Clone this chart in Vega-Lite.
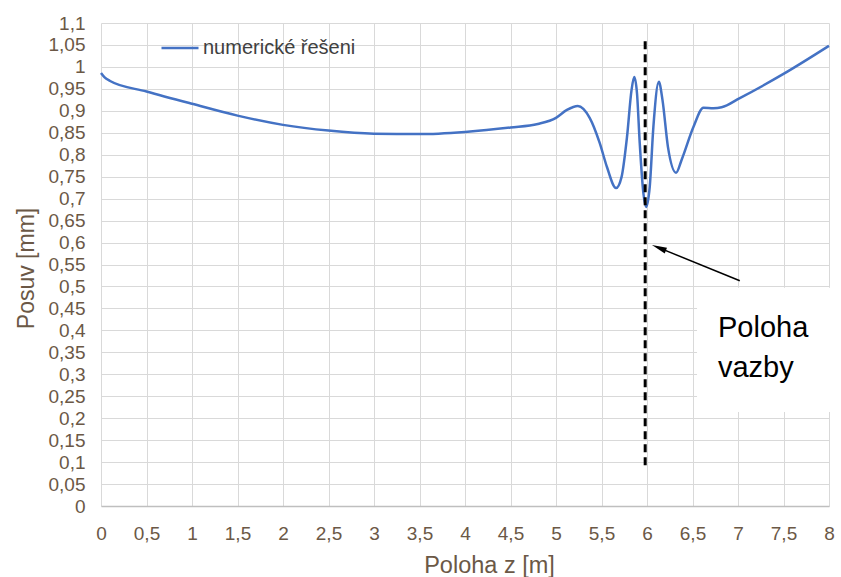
{
  "$schema": "https://vega.github.io/schema/vega-lite/v6.json",
  "width": 728,
  "height": 483,
  "autosize": {"type": "none"},
  "padding": {"left": 101, "top": 23, "right": 12, "bottom": 71},
  "background": "white",
  "config": {
    "view": {"stroke": null},
    "font": "Liberation Sans",
    "axis": {"labelFont": "Liberation Sans", "titleFont": "Liberation Sans", "labelColor": "#6b5846", "titleColor": "#6b5846", "titleFontWeight": "normal", "gridColor": "#d9d9d9", "gridWidth": 1, "ticks": false}
  },
  "datasets": {
    "curve": [
      {"z": 0, "posuv": 0.986, "serie": "numerické řešeni"},
      {"z": 0.04, "posuv": 0.976, "serie": "numerické řešeni"},
      {"z": 0.1, "posuv": 0.968, "serie": "numerické řešeni"},
      {"z": 0.5, "posuv": 0.944, "serie": "numerické řešeni"},
      {"z": 1, "posuv": 0.916, "serie": "numerické řešeni"},
      {"z": 1.5, "posuv": 0.889, "serie": "numerické řešeni"},
      {"z": 2, "posuv": 0.868, "serie": "numerické řešeni"},
      {"z": 2.5, "posuv": 0.855, "serie": "numerické řešeni"},
      {"z": 3, "posuv": 0.848, "serie": "numerické řešeni"},
      {"z": 3.5, "posuv": 0.847, "serie": "numerické řešeni"},
      {"z": 4, "posuv": 0.852, "serie": "numerické řešeni"},
      {"z": 4.5, "posuv": 0.862, "serie": "numerické řešeni"},
      {"z": 4.8, "posuv": 0.870, "serie": "numerické řešeni"},
      {"z": 5.0, "posuv": 0.884, "serie": "numerické řešeni"},
      {"z": 5.12, "posuv": 0.902, "serie": "numerické řešeni"},
      {"z": 5.24, "posuv": 0.911, "serie": "numerické řešeni"},
      {"z": 5.37, "posuv": 0.884, "serie": "numerické řešeni"},
      {"z": 5.48, "posuv": 0.827, "serie": "numerické řešeni"},
      {"z": 5.56, "posuv": 0.772, "serie": "numerické řešeni"},
      {"z": 5.66, "posuv": 0.724, "serie": "numerické řešeni"},
      {"z": 5.72, "posuv": 0.749, "serie": "numerické řešeni"},
      {"z": 5.78, "posuv": 0.84, "serie": "numerické řešeni"},
      {"z": 5.83, "posuv": 0.947, "serie": "numerické řešeni"},
      {"z": 5.86, "posuv": 0.977, "serie": "numerické řešeni"},
      {"z": 5.89, "posuv": 0.94, "serie": "numerické řešeni"},
      {"z": 5.92, "posuv": 0.827, "serie": "numerické řešeni"},
      {"z": 5.96, "posuv": 0.713, "serie": "numerické řešeni"},
      {"z": 5.99, "posuv": 0.681, "serie": "numerické řešeni"},
      {"z": 6.03, "posuv": 0.727, "serie": "numerické řešeni"},
      {"z": 6.07, "posuv": 0.863, "serie": "numerické řešeni"},
      {"z": 6.13, "posuv": 0.966, "serie": "numerické řešeni"},
      {"z": 6.17, "posuv": 0.925, "serie": "numerické řešeni"},
      {"z": 6.23, "posuv": 0.818, "serie": "numerické řešeni"},
      {"z": 6.32, "posuv": 0.759, "serie": "numerické řešeni"},
      {"z": 6.38, "posuv": 0.788, "serie": "numerické řešeni"},
      {"z": 6.51, "posuv": 0.863, "serie": "numerické řešeni"},
      {"z": 6.62, "posuv": 0.907, "serie": "numerické řešeni"},
      {"z": 6.73, "posuv": 0.906, "serie": "numerické řešeni"},
      {"z": 6.82, "posuv": 0.908, "serie": "numerické řešeni"},
      {"z": 7.02, "posuv": 0.929, "serie": "numerické řešeni"},
      {"z": 7.5, "posuv": 0.984, "serie": "numerické řešeni"},
      {"z": 8, "posuv": 1.048, "serie": "numerické řešeni"}
    ]
  },
  "layer": [
    {
      "data": {"name": "curve"},
      "mark": {"type": "line", "interpolate": "monotone", "strokeWidth": 2.5},
      "encoding": {
        "x": {"field": "z", "type": "quantitative", "scale": {"domain": [0, 8]},
          "axis": {"tickCount": 16, "format": ".1~f", "labelExpr": "replace(datum.label, '.', ',')", "title": "Poloha z [m]", "labelFontSize": 19, "titleFontSize": 23.5, "labelPadding": 18, "titleX": 388, "titleY": 66, "titleBaseline": "alphabetic", "titleAlign": "center", "domainColor": "#bfbfbf", "domainWidth": 1.5, "labelFlush": false, "labelOverlap": false}},
        "y": {"field": "posuv", "type": "quantitative", "scale": {"domain": [0, 1.1]},
          "axis": {"tickCount": 22, "format": ".2~f", "labelExpr": "replace(datum.label, '.', ',')", "title": "Posuv [mm]", "labelFontSize": 19, "titleFontSize": 23, "labelPadding": 16, "titleX": -68, "titleY": 245, "titleBaseline": "alphabetic", "titleAlign": "center", "titleAngle": -90, "domain": false, "labelFlush": false, "labelOverlap": false}},
        "color": {"field": "serie", "type": "nominal", "scale": {"range": ["#4472C4"]},
          "legend": {"title": null, "orient": "none", "legendX": 59, "legendY": 5, "symbolType": "stroke", "symbolSize": 1369, "symbolStrokeWidth": 2.5, "labelFont": "Liberation Sans", "labelFontSize": 20, "labelColor": "#404040", "labelOffset": 3, "padding": 0}}
      }
    },
    {
      "data": {"values": [{"x1": 6.55, "x2": 8.06, "y1": 0.214, "y2": 0.497}]},
      "mark": {"type": "rect", "color": "white", "clip": false},
      "encoding": {
        "x": {"field": "x1", "type": "quantitative"},
        "x2": {"field": "x2"},
        "y": {"field": "y1", "type": "quantitative"},
        "y2": {"field": "y2"}
      }
    },
    {
      "data": {"values": [{"z": 5.98, "y1": 0.093, "y2": 1.068}]},
      "mark": {"type": "rule", "color": "black", "strokeWidth": 3, "strokeDash": [8, 5]},
      "encoding": {
        "x": {"field": "z", "type": "quantitative"},
        "y": {"field": "y1", "type": "quantitative"},
        "y2": {"field": "y2"}
      }
    },
    {
      "data": {"values": [{"x1": 7.02, "y1": 0.513, "x2": 6.12, "y2": 0.589}]},
      "mark": {"type": "rule", "color": "black", "strokeWidth": 1.5},
      "encoding": {
        "x": {"field": "x1", "type": "quantitative"},
        "y": {"field": "y1", "type": "quantitative"},
        "x2": {"field": "x2"},
        "y2": {"field": "y2"}
      }
    },
    {
      "data": {"values": [{"x": 6.131, "y": 0.588}]},
      "mark": {"type": "point", "shape": "M0,-1L0.4,1L-0.4,1Z", "filled": true, "color": "black", "opacity": 1, "size": 225, "angle": 292},
      "encoding": {
        "x": {"field": "x", "type": "quantitative"},
        "y": {"field": "y", "type": "quantitative"}
      }
    },
    {
      "data": {"values": [{"x": 6.78, "y": 0.385, "t": "Poloha"}, {"x": 6.78, "y": 0.294, "t": "vazby"}]},
      "mark": {"type": "text", "align": "left", "baseline": "alphabetic", "font": "Liberation Sans", "fontSize": 29, "color": "black"},
      "encoding": {
        "x": {"field": "x", "type": "quantitative"},
        "y": {"field": "y", "type": "quantitative"},
        "text": {"field": "t"}
      }
    }
  ]
}
